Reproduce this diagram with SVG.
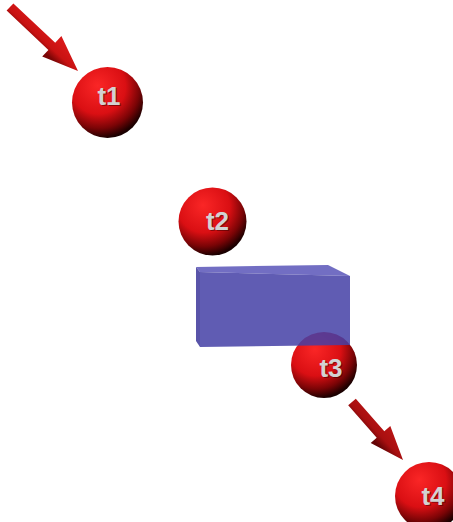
<svg xmlns="http://www.w3.org/2000/svg" width="453" height="522" viewBox="0 0 453 522">
  <style>
    .label { font-family: "Liberation Sans", Arial, sans-serif; font-weight: bold; font-size: 26px; fill: #d2d2d2; text-anchor: middle; }
    .shadow { font-family: "Liberation Sans", Arial, sans-serif; font-weight: bold; font-size: 26px; fill: #3a0000; text-anchor: middle; opacity: 0.5; }
    .ball { fill: url(#ballShade); }
  </style>
  <defs>
    <radialGradient id="ballShade" cx="0.38" cy="0.3" r="0.8" fx="0.36" fy="0.26">
      <stop offset="0" stop-color="#fa2626"/>
      <stop offset="0.48" stop-color="#da0f13"/>
      <stop offset="0.72" stop-color="#7a0406"/>
      <stop offset="0.88" stop-color="#200000"/>
      <stop offset="1" stop-color="#000000"/>
    </radialGradient>
    <linearGradient id="arrowShadeA" gradientUnits="userSpaceOnUse" x1="55" y1="36" x2="42" y2="50">
      <stop offset="0" stop-color="#d81818"/>
      <stop offset="0.6" stop-color="#c81212"/>
      <stop offset="1" stop-color="#7a0606"/>
    </linearGradient>
    <linearGradient id="arrowShadeB" gradientUnits="userSpaceOnUse" x1="388" y1="426" x2="373" y2="440">
      <stop offset="0" stop-color="#b81414"/>
      <stop offset="0.6" stop-color="#a80f10"/>
      <stop offset="1" stop-color="#640405"/>
    </linearGradient>
  </defs>

  <!-- arrows -->
  <g id="connectors">
    <polygon fill="url(#arrowShadeA)" points="13.4,3.4 55.2,42.7 61.4,36.1 78,71 42.2,56.5 48.4,49.9 6.6,10.6"/>
    <polygon fill="url(#arrowShadeB)" points="355.8,398.7 384.3,431.2 390.3,425.9 403,460 370.7,443.1 376.7,437.8 348.2,405.3"/>
  </g>

  <g id="t1">
    <circle class="ball" cx="107.5" cy="102.5" r="35.5"/>
    <text class="shadow" x="110" y="106">t1</text>
    <text class="label" x="109" y="105">t1</text>
  </g>

  <g id="t2">
    <circle class="ball" cx="212.5" cy="221.5" r="34"/>
    <text class="shadow" x="218.5" y="231">t2</text>
    <text class="label" x="217.5" y="230">t2</text>
  </g>

  <g id="t3">
    <circle class="ball" cx="324" cy="365" r="33"/>
    <text class="shadow" x="332" y="378">t3</text>
    <text class="label" x="331" y="377">t3</text>
  </g>

  <!-- translucent block, drawn over t3 -->
  <g id="block" opacity="0.85">
    <polygon fill="#5a55b9" points="196,267 328,265 350,276 200,272"/>
    <polygon fill="#3d379b" points="196,267 200,272 200,347 196,341"/>
    <polygon fill="#4540a6" points="200,272 350,276 350,345 200,347"/>
  </g>

  <g id="t4">
    <circle class="ball" cx="429" cy="496" r="34"/>
    <text class="shadow" x="434" y="506">t4</text>
    <text class="label" x="433" y="505">t4</text>
  </g>
</svg>
